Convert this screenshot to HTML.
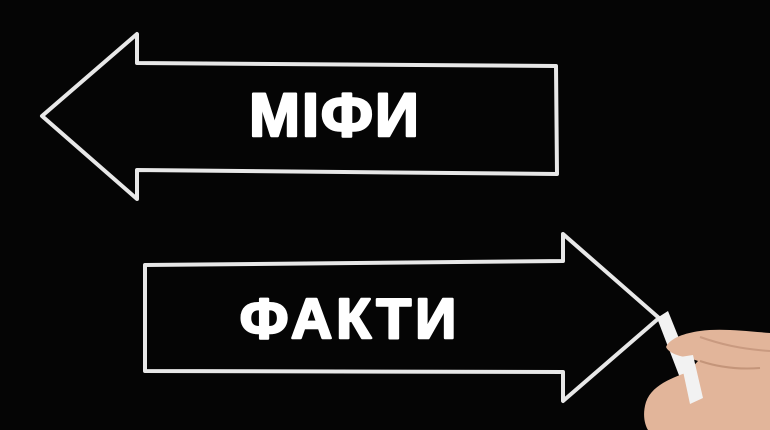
<!DOCTYPE html>
<html><head><meta charset="utf-8"><style>
html,body{margin:0;padding:0;background:#000;width:770px;height:430px;overflow:hidden}
svg{display:block}
text{font-family:"Liberation Sans",sans-serif;font-weight:bold;fill:#fff;stroke:#fff;stroke-width:2.5;stroke-linejoin:round}
</style></head><body>
<svg width="770" height="430" viewBox="0 0 770 430">
<rect width="770" height="430" fill="#050505"/>
<g fill="none" stroke="#e8e8e8" stroke-width="4" stroke-linejoin="round" stroke-linecap="round">
<polygon points="42,116 137,34 137,63 556,66 557,174 137,170 137,199"/>
<polygon points="145,265 563,261 563,234 659,318 563,401 563,372 145,371"/>
</g>
<text x="335" y="136" font-size="61" text-anchor="middle" letter-spacing="2">МІФИ</text>
<text x="350" y="338" font-size="57" text-anchor="middle" letter-spacing="4">ФАКТИ</text>
<!-- chalk -->
<polygon points="657,318 668,311 703,398 690,404" fill="#f2f2f2"/>
<!-- hand -->
<path d="M770,333 C745,331 720,328 700,331 C685,333 670,338 666,347 C670,356 688,357 698,361 L688,372 C672,378 652,385 646,402 C642,415 645,425 648,430 L770,430 Z" fill="#e2b59a"/>
<path d="M700,361 C715,366 735,370 760,368" stroke="#c4957a" stroke-width="2" fill="none"/>
<path d="M700,337 C720,344 740,349 770,351" stroke="#c99a80" stroke-width="2" fill="none"/>
<polygon points="680,357 693,355 703,398 690,404" fill="#f2f2f2"/>
</svg>
</body></html>
